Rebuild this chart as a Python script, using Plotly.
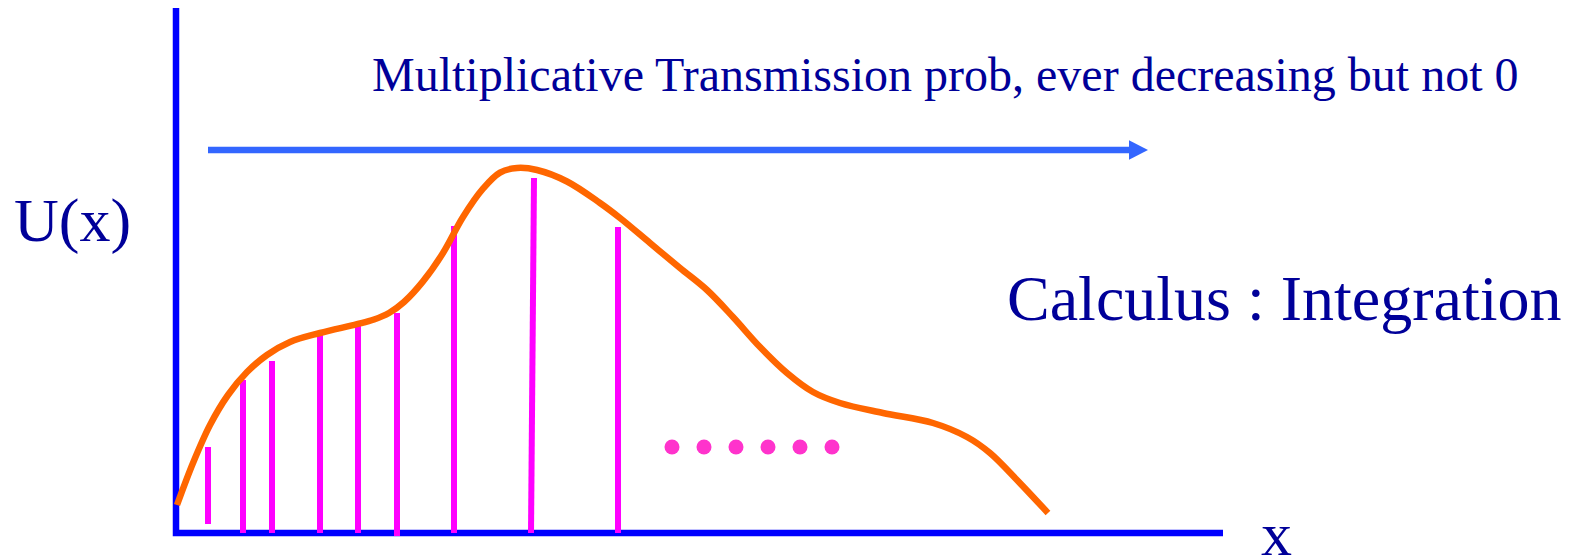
import plotly.graph_objects as go

# ---- data (schematic units: origin at the axes corner) ----
curve_x = [1, 17, 34, 52, 71, 91, 114, 144, 181, 198, 213, 228, 247, 267, 287, 307, 324, 341, 361,
           391, 424, 444, 474, 504, 531, 557, 584, 611, 637, 664, 707, 757, 791, 814, 841, 872]
curve_y = [28, 70, 108, 138, 161, 178, 191, 200, 208.8, 213.5, 220, 231, 251.6, 280, 316, 344.3,
           360.4, 365, 363, 351.5, 330, 315, 290, 265, 243, 216, 186, 160, 141, 130, 120, 110,
           96, 80, 53, 20]

stem_x_top = [32, 67, 96, 144, 182, 221, 278, 358, 442]
stem_x_bottom = [32, 67, 96, 144, 182, 221, 278, 355, 442]
stem_top = [86, 153, 172, 201, 211, 220, 307, 355, 306]
stem_bottom = [9, 0, 0, 0, 0, -3, 0, 0, 0]

dots_x = [496, 528, 560, 592, 624, 656]
dots_y = [86, 86, 86, 86, 86, 86]

x_axis_end = 1047
y_axis_end = 527
arrow_start = 32
arrow_end = 972
arrow_y = 383

title_text = "Multiplicative Transmission prob, ever decreasing but not 0"
side_text = "Calculus : Integration"
y_label = "U(x)"
x_label = "x"

TEXT = "#000099"
FONT = "Liberation Serif, Times New Roman, serif"

fig = go.Figure()

# axes
fig.add_trace(go.Scatter(x=[0, 0, x_axis_end], y=[y_axis_end, 0, 0], mode="lines",
                         line=dict(color="#0000FF", width=6.5), hoverinfo="skip"))

# stems
for xt, xb, yt, yb in zip(stem_x_top, stem_x_bottom, stem_top, stem_bottom):
    fig.add_trace(go.Scatter(x=[xb, xt], y=[yb, yt], mode="lines",
                             line=dict(color="#FF00FF", width=6), hoverinfo="skip"))

# curve
fig.add_trace(go.Scatter(x=curve_x, y=curve_y, mode="lines",
                         line=dict(color="#FF6600", width=6.5, shape="spline", smoothing=1.0),
                         hoverinfo="skip"))

# dots
fig.add_trace(go.Scatter(x=dots_x, y=dots_y, mode="markers",
                         marker=dict(color="#FF33CC", size=15, line=dict(width=0)),
                         hoverinfo="skip"))

# arrow shaft + head
head_len = 19
head_half = 9.7
fig.add_trace(go.Scatter(x=[arrow_start, arrow_end - head_len + 1], y=[arrow_y, arrow_y], mode="lines",
                         line=dict(color="#3366FF", width=6.5), hoverinfo="skip"))
fig.add_trace(go.Scatter(x=[arrow_end - head_len, arrow_end, arrow_end - head_len, arrow_end - head_len],
                         y=[arrow_y + head_half, arrow_y, arrow_y - head_half, arrow_y + head_half],
                         mode="lines", fill="toself", fillcolor="#3366FF",
                         line=dict(color="#3366FF", width=0), hoverinfo="skip"))

annos = [
    dict(text=title_text, x=769.5, y=458.3, size=48),
    dict(text=side_text, x=1108.5, y=235, size=64),
    dict(text=y_label, x=-104, y=313, size=62),
    dict(text=x_label, x=1100, y=-1, size=62),
]
for a in annos:
    fig.add_annotation(x=a["x"], y=a["y"], xref="x", yref="y", text=a["text"], showarrow=False,
                       xanchor="center", yanchor="middle",
                       font=dict(family=FONT, size=a["size"], color=TEXT))

fig.update_layout(
    width=1581, height=559,
    margin=dict(l=0, r=0, t=0, b=0),
    paper_bgcolor="white", plot_bgcolor="white",
    showlegend=False,
    xaxis=dict(range=[-168, 1413], visible=False, fixedrange=True),
    yaxis=dict(range=[-34, 525], visible=False, fixedrange=True),
)

fig.write_html("out.html")
